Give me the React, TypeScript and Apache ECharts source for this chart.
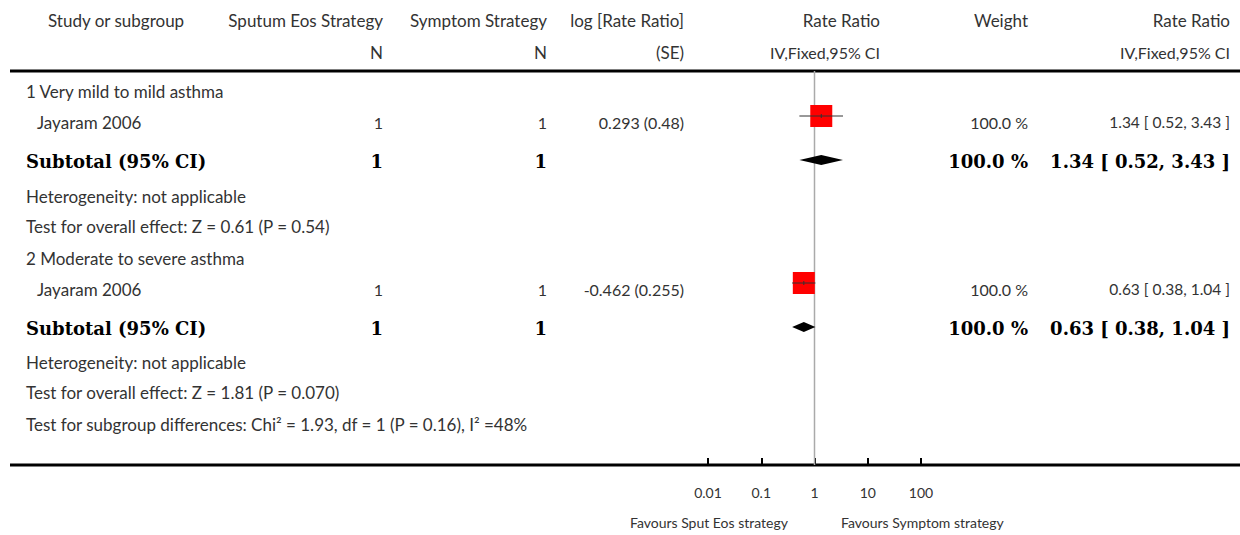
import React, { useEffect, useRef } from "react";
import * as echarts from "echarts";

// ---------- data ----------
const headerTop = ["Study or subgroup", "Sputum Eos Strategy", "Symptom Strategy", "log [Rate Ratio]", "Rate Ratio", "Weight", "Rate Ratio"];
const headerBottom = ["", "N", "N", "(SE)", "IV,Fixed,95% CI", "", "IV,Fixed,95% CI"];
const subgroupNames = ["1 Very mild to mild asthma", "2 Moderate to severe asthma"];
const studyNames = ["Jayaram 2006", "Jayaram 2006"];
const studySputN = [1, 1];
const studySympN = [1, 1];
const studyLogRR = ["0.293", "-0.462"];
const studySE = ["0.48", "0.255"];
const studyRR = [1.34, 0.63];
const studyLow = [0.52, 0.38];
const studyHigh = [3.43, 1.04];
const studyWeight = [100, 100];
const subtotalSputN = [1, 1];
const subtotalSympN = [1, 1];
const subtotalWeight = [100, 100];
const subtotalRR = [1.34, 0.63];
const subtotalLow = [0.52, 0.38];
const subtotalHigh = [3.43, 1.04];
const heterogeneityText = ["Heterogeneity: not applicable", "Heterogeneity: not applicable"];
const overallEffectText = ["Test for overall effect: Z = 0.61 (P = 0.54)", "Test for overall effect: Z = 1.81 (P = 0.070)"];
const subgroupTestText = "Test for subgroup differences: Chi\u00b2 = 1.93, df = 1 (P = 0.16), I\u00b2 =48%";
const axisTickLabels = ["0.01", "0.1", "1", "10", "100"];
const favoursLeft = "Favours Sput Eos strategy";
const favoursRight = "Favours Symptom strategy";

// ---------- layout ----------
const W = 1240;
const H = 535;
const GROUP_TEXT_Y = [
  [91, 122, 161, 196, 226],
  [258, 289, 328, 362, 392],
];
const STUDY_MARK_Y = [116, 283];
const SUBTOTAL_MARK_Y = [160, 327];
const SUBGROUP_TEST_Y = 424;
const HEADER_Y = [20, 52];
const COL = { study: 48, label: 26, studyIndent: 37, n1: 383, n2: 547, logrr: 684, plotHead: 880, weight: 1028, rr: 1230 };
const TOP_LINE_Y = 71;
const AXIS_Y = 465;
const PLOT_LEFT = 708;
const PLOT_RIGHT = 921;

const SANS = "Lato, 'Open Sans', sans-serif";
const SERIF = "'DejaVu Serif', 'Liberation Serif', serif";
const GREY = "#333";
const FS_LABEL = 17;
const FS_NUM = 16;
const FS_CI = 15.5;

const fmt2 = (v: number) => v.toFixed(2);
const ciText = (e: number, l: number, h: number) => `${fmt2(e)} [ ${fmt2(l)}, ${fmt2(h)} ]`;

function txt(text: string, x: number, y: number, align: string, opts: any = {}) {
  return {
    type: "text",
    x,
    y,
    silent: true,
    style: {
      text,
      fill: opts.fill || GREY,
      fontFamily: opts.fontFamily || SANS,
      fontSize: opts.fontSize || FS_LABEL,
      fontWeight: opts.fontWeight || "normal",
      textAlign: align,
      textVerticalAlign: "middle",
    },
  };
}

export default function App() {
  const ref = useRef<HTMLDivElement>(null);

  useEffect(() => {
    if (!ref.current) return;
    const chart = echarts.init(ref.current, null, { renderer: "svg" });

    const graphics: any[] = [];
    // header
    const headAligns = ["left", "right", "right", "right", "right", "right", "right"];
    const headX = [COL.study, COL.n1, COL.n2, COL.logrr, COL.plotHead, COL.weight, COL.rr];
    headerTop.forEach((t, i) => graphics.push(txt(t, headX[i], HEADER_Y[0], headAligns[i])));
    headerBottom.forEach((t, i) => {
      if (t) graphics.push(txt(t, headX[i], HEADER_Y[1], headAligns[i], { fontSize: i >= 4 ? FS_NUM : FS_LABEL }));
    });
    // lines
    graphics.push({ type: "line", silent: true, shape: { x1: 10, y1: TOP_LINE_Y, x2: W, y2: TOP_LINE_Y }, style: { stroke: "#000", lineWidth: 3 } });
    graphics.push({ type: "line", silent: true, shape: { x1: 10, y1: AXIS_Y, x2: W, y2: AXIS_Y }, style: { stroke: "#000", lineWidth: 3 } });

    subgroupNames.forEach((name, g) => {
      const ys = GROUP_TEXT_Y[g];
      graphics.push(txt(name, COL.label, ys[0], "left"));
      graphics.push(txt(studyNames[g], COL.studyIndent, ys[1], "left"));
      graphics.push(txt(String(studySputN[g]), COL.n1, ys[1], "right", { fontSize: FS_NUM }));
      graphics.push(txt(String(studySympN[g]), COL.n2, ys[1], "right", { fontSize: FS_NUM }));
      graphics.push(txt(`${studyLogRR[g]} (${studySE[g]})`, COL.logrr, ys[1], "right", { fontSize: FS_NUM }));
      graphics.push(txt(`${studyWeight[g].toFixed(1)} %`, COL.weight, ys[1], "right", { fontSize: FS_NUM }));
      graphics.push(txt(ciText(studyRR[g], studyLow[g], studyHigh[g]), COL.rr, ys[1], "right", { fontSize: FS_CI }));

      const bold = { fontFamily: SERIF, fontWeight: "bold", fontSize: 18, fill: "#000" };
      graphics.push(txt("Subtotal (95% CI)", COL.label, ys[2], "left", bold));
      graphics.push(txt(String(subtotalSputN[g]), COL.n1, ys[2], "right", bold));
      graphics.push(txt(String(subtotalSympN[g]), COL.n2, ys[2], "right", bold));
      graphics.push(txt(`${subtotalWeight[g].toFixed(1)} %`, COL.weight, ys[2], "right", bold));
      graphics.push(txt(ciText(subtotalRR[g], subtotalLow[g], subtotalHigh[g]), COL.rr, ys[2], "right", bold));

      graphics.push(txt(heterogeneityText[g], COL.label, ys[3], "left"));
      graphics.push(txt(overallEffectText[g], COL.label, ys[4], "left"));
    });
    graphics.push(txt(subgroupTestText, COL.label, SUBGROUP_TEST_Y, "left"));
    graphics.push(txt(favoursLeft, 788, 522, "right", { fontSize: 14 }));
    graphics.push(txt(favoursRight, 841, 522, "left", { fontSize: 14 }));

    const markData: any[] = [];
    subgroupNames.forEach((_, g) => {
      markData.push([studyRR[g], studyLow[g], studyHigh[g], STUDY_MARK_Y[g], studyWeight[g], 0]);
      markData.push([subtotalRR[g], subtotalLow[g], subtotalHigh[g], SUBTOTAL_MARK_Y[g], subtotalWeight[g], 1]);
    });

    chart.setOption({
      animation: false,
      grid: { left: PLOT_LEFT, right: W - PLOT_RIGHT, top: TOP_LINE_Y, bottom: H - AXIS_Y, containLabel: false },
      xAxis: {
        type: "log",
        logBase: 10,
        min: 0.01,
        max: 100,
        interval: 1,
        axisLine: { show: false },
        axisTick: { show: true, inside: true, length: 7, lineStyle: { color: "#000", width: 2 } },
        splitLine: { show: false },
        axisLabel: {
          margin: 20,
          color: GREY,
          fontFamily: SANS,
          fontSize: 14,
          formatter: (v: number) => {
            const idx = Math.round(Math.log10(v)) + 2;
            return axisTickLabels[idx] ?? String(v);
          },
        },
      },
      yAxis: { type: "value", min: TOP_LINE_Y, max: AXIS_Y, inverse: true, show: false },
      graphic: graphics,
      series: [
        {
          type: "line",
          z: 1,
          symbol: "none",
          silent: true,
          data: [[1, TOP_LINE_Y], [1, AXIS_Y]],
          lineStyle: { color: "#aaa", width: 1.5 },
        },
        {
          type: "custom",
          z: 3,
          clip: false,
          silent: true,
          data: markData,
          renderItem: (params: any, api: any) => {
            const est = api.value(0);
            const lo = api.value(1);
            const hi = api.value(2);
            const y = api.value(3);
            const w = api.value(4);
            const kind = api.value(5);
            const pE = api.coord([est, y]);
            const pL = api.coord([lo, y]);
            const pH = api.coord([hi, y]);
            if (kind === 0) {
              const s = 22 * Math.sqrt(w / 100);
              return {
                type: "group",
                children: [
                  { type: "rect", shape: { x: pE[0] - s / 2, y: pE[1] - s / 2, width: s, height: s }, style: { fill: "#ff0000" } },
                  { type: "line", shape: { x1: pL[0], y1: pL[1], x2: pH[0], y2: pH[1] }, style: { stroke: "#333", lineWidth: 1 } },
                  { type: "line", shape: { x1: pE[0], y1: pE[1] - 2, x2: pE[0], y2: pE[1] + 2 }, style: { stroke: "#333", lineWidth: 1 } },
                ],
              };
            }
            return {
              type: "polygon",
              shape: { points: [[pL[0], pE[1]], [pE[0], pE[1] - 5], [pH[0], pE[1]], [pE[0], pE[1] + 5]] },
              style: { fill: "#000" },
            };
          },
        },
      ],
    });

    return () => chart.dispose();
  }, []);

  return <div ref={ref} style={{ position: "fixed", left: 0, top: 0, width: W, height: H, background: "#fff" }} />;
}
